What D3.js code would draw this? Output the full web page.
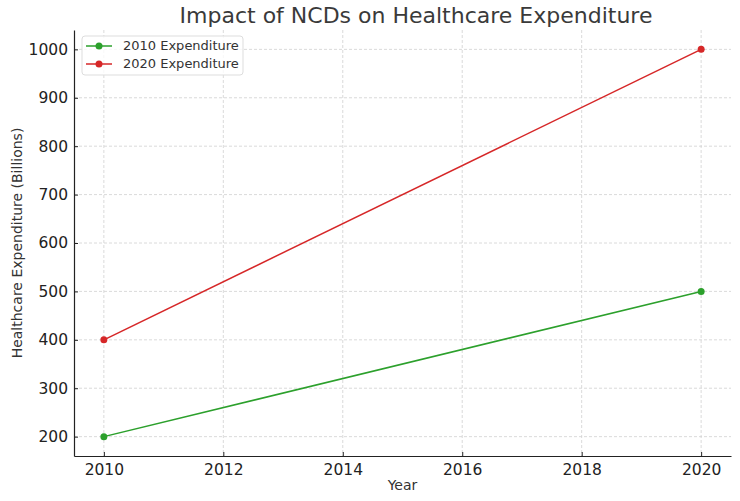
<html>
<head>
<style>
  body { margin: 0; background: #fff; }
  text { font-family: "DejaVu Sans", sans-serif; fill: #333; }
</style>
<script src="https://d3js.org/d3.v7.min.js"></script>
</head>
<body>
<script>
const years = [2010, 2020];
const exp2010 = [200, 500];
const exp2020 = [400, 1000];
const seriesNames = ["2010 Expenditure", "2020 Expenditure"];
const seriesColors = ["#2ca02c", "#d62728"];
const xTicks = [2010, 2012, 2014, 2016, 2018, 2020];
const yTicks = [200, 300, 400, 500, 600, 700, 800, 900, 1000];

const w = 740, h = 501;
const m = {left: 74, right: 9, top: 30, bottom: 45};

const svg = d3.select("body").append("svg").attr("width", w).attr("height", h);

const x = d3.scaleLinear().domain([2009.5, 2020.5]).range([m.left, w - m.right]);
const y = d3.scaleLinear().domain([160, 1040]).range([h - m.bottom, m.top]);

// grid
svg.append("g").selectAll("line").data(xTicks).enter().append("line")
  .attr("x1", d => x(d)).attr("x2", d => x(d))
  .attr("y1", m.top).attr("y2", h - m.bottom)
  .attr("stroke", "#d0d0d0").attr("stroke-width", 0.8).attr("stroke-dasharray", "3,2");
svg.append("g").selectAll("line").data(yTicks).enter().append("line")
  .attr("x1", m.left).attr("x2", w - m.right)
  .attr("y1", d => y(d)).attr("y2", d => y(d))
  .attr("stroke", "#d0d0d0").attr("stroke-width", 0.8).attr("stroke-dasharray", "3,2");

// axes with inward ticks
const xAxis = svg.append("g")
  .attr("transform", "translate(0," + (h - m.bottom) + ")")
  .call(d3.axisBottom(x).tickValues(xTicks).tickFormat(d3.format("d")).tickSizeInner(-4).tickSizeOuter(0).tickPadding(8));
const yAxis = svg.append("g")
  .attr("transform", "translate(" + m.left + ",0)")
  .call(d3.axisLeft(y).tickValues(yTicks).tickFormat(d3.format("d")).tickSizeInner(-4).tickSizeOuter(0).tickPadding(6));
[xAxis, yAxis].forEach(a => {
  a.select(".domain").attr("stroke", "#222").attr("stroke-width", 1.2);
  a.selectAll(".tick line").attr("stroke", "#222");
  a.selectAll(".tick text").style("font-size", "15.5px").style("fill", "#222")
    .style("font-family", "DejaVu Sans, sans-serif");
});

// lines
const line = d3.line().x(d => x(d[0])).y(d => y(d[1]));
[exp2010, exp2020].forEach((vals, i) => {
  const pts = years.map((yr, j) => [yr, vals[j]]);
  svg.append("path").datum(pts).attr("d", line)
    .attr("fill", "none").attr("stroke", seriesColors[i]).attr("stroke-width", 1.5);
  svg.append("g").selectAll("circle").data(pts).enter().append("circle")
    .attr("cx", d => x(d[0])).attr("cy", d => y(d[1])).attr("r", 3.5)
    .attr("fill", seriesColors[i]);
});

// title and labels
svg.append("text").attr("x", 416).attr("y", 23).attr("text-anchor", "middle")
  .style("font-size", "22px").style("fill", "#3a3a3a").text("Impact of NCDs on Healthcare Expenditure");
svg.append("text").attr("x", (m.left + w - m.right) / 2).attr("y", 490).attr("text-anchor", "middle")
  .style("font-size", "14px").text("Year");
svg.append("text").attr("transform", "translate(22," + ((m.top + h - m.bottom) / 2) + ") rotate(-90)")
  .attr("text-anchor", "middle").style("font-size", "14px").text("Healthcare Expenditure (Billions)");

// legend
const lg = svg.append("g").attr("transform", "translate(82,36)");
lg.append("rect").attr("width", 161).attr("height", 39).attr("rx", 3)
  .attr("fill", "#fff").attr("fill-opacity", 0.8).attr("stroke", "#ddd");
seriesNames.forEach((name, i) => {
  const yy = 10 + i * 18;
  lg.append("line").attr("x1", 4).attr("x2", 30).attr("y1", yy).attr("y2", yy)
    .attr("stroke", seriesColors[i]).attr("stroke-width", 1.5);
  lg.append("circle").attr("cx", 17).attr("cy", yy).attr("r", 3.5).attr("fill", seriesColors[i]);
  lg.append("text").attr("x", 41).attr("y", yy + 4).style("font-size", "13px").text(name);
});
</script>
</body>
</html>
